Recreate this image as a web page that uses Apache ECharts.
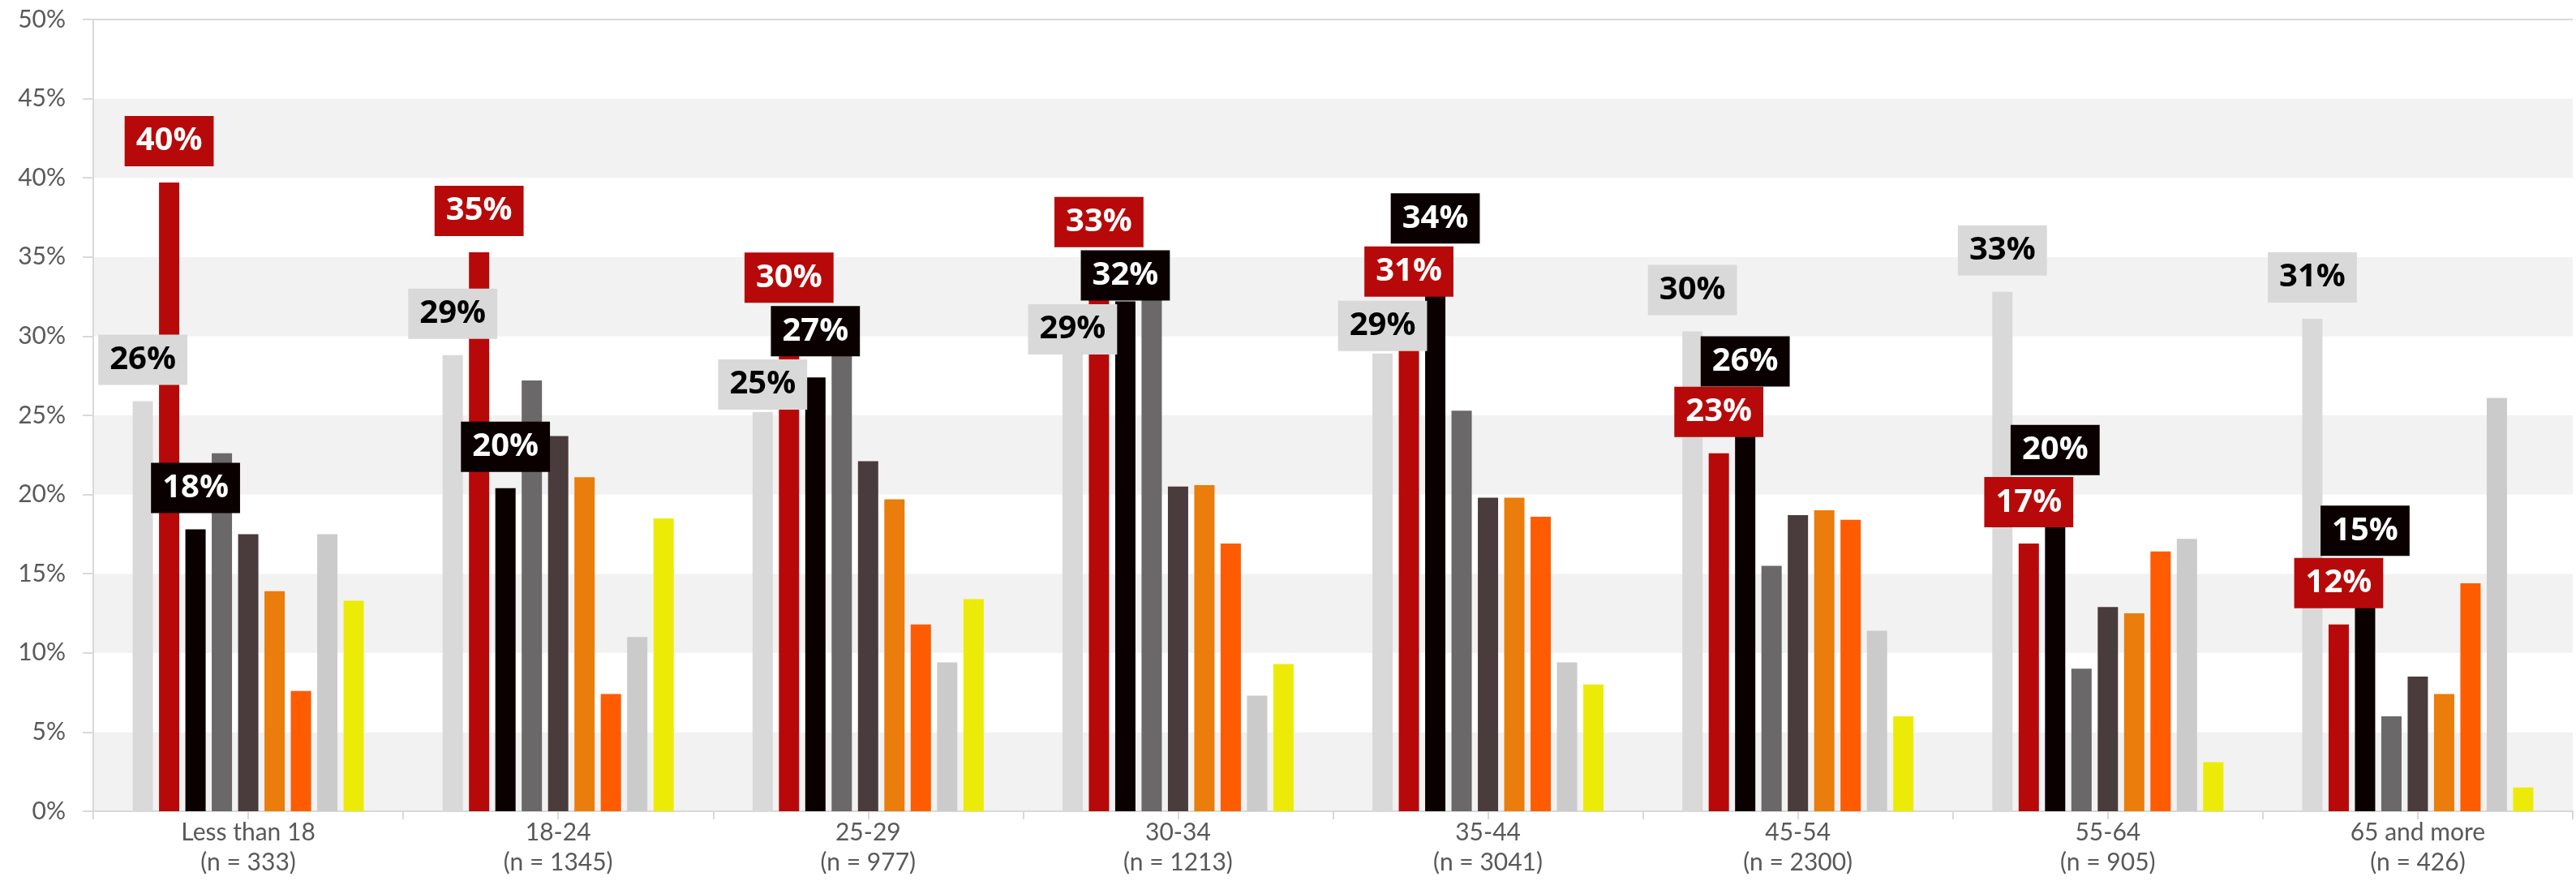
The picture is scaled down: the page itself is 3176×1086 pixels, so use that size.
<!DOCTYPE html>
<html>
<head>
<meta charset="utf-8">
<title>Age groups</title>
<script src="https://cdn.jsdelivr.net/npm/echarts@6/dist/echarts.min.js"></script>
<style>
  html, body { margin: 0; padding: 0; background: #fff; }
  #chart { width: 3176px; height: 1086px; }
</style>
</head>
<body>
<div id="chart"></div>
<script>
// data (percent)
const ageGroups = ['Less than 18', '18-24', '25-29', '30-34', '35-44', '45-54', '55-64', '65 and more']
const sampleSizes = [333, 1345, 977, 1213, 3041, 2300, 905, 426]

const lightGray = [25.9, 28.8, 25.2, 29.1, 28.9, 30.3, 32.8, 31.1]
const red = [39.7, 35.3, 29.8, 32.9, 30.8, 22.6, 16.9, 11.8]
const black = [17.8, 20.4, 27.4, 32.2, 33.8, 25.8, 20.2, 15.1]
const gray = [22.6, 27.2, 29.5, 32.8, 25.3, 15.5, 9.0, 6.0]
const darkBrown = [17.5, 23.7, 22.1, 20.5, 19.8, 18.7, 12.9, 8.5]
const orange = [13.9, 21.1, 19.7, 20.6, 19.8, 19.0, 12.5, 7.4]
const orangeRed = [7.6, 7.4, 11.8, 16.9, 18.6, 18.4, 16.4, 14.4]
const lightGray2 = [17.5, 11.0, 9.4, 7.3, 9.4, 11.4, 17.2, 26.1]
const yellow = [13.3, 18.5, 13.4, 9.3, 8.0, 6.0, 3.1, 1.5]

const yTicks = [0, 50, 5] // min, max, step

// labels were moved by hand in the original, so a few get a vertical nudge (px)
const nudgeLightGray = [0, 0, 17, 25, 17, 0, 0, 0]
const nudgeRed = [0, 0, -25, -33, -13, 0, 0, 0]
const nudgeBlack = [0, 0, -6, 19, -20, 0, 0, 0]

const chart = echarts.init(document.getElementById('chart'))

const axisColor = '#d9d9d9'
const textColor = '#595959'

function withLabels (values, nudges) {
  return values.map((v, i) => ({ value: v, label: { offset: [0, nudges[i]] } }))
}

function labelStyle (bg, fg) {
  return {
    show: true,
    position: 'top',
    distance: 20,
    formatter: p => Math.round(p.value) + '%',
    backgroundColor: bg,
    color: fg,
    fontFamily: 'Open Sans',
    fontWeight: 'bold',
    fontSize: 40,
    lineHeight: 40,
    padding: [11, 14]
  }
}

function bar (name, data, color, label) {
  const s = {
    name: name,
    type: 'bar',
    xAxisIndex: 0,
    barWidth: 25,
    barGap: '30%',
    itemStyle: { color: color },
    data: data
  }
  if (label) s.label = label
  return s
}

const option = {
  animation: false,
  grid: { left: 115, right: 4, top: 24, bottom: 86 },
  xAxis: [
    {
      type: 'category',
      data: ageGroups,
      axisLine: { show: true, lineStyle: { color: axisColor, width: 2 } },
      axisTick: { show: true, alignWithLabel: true, length: 10, lineStyle: { color: axisColor, width: 2 } },
      axisLabel: {
        color: textColor,
        fontFamily: 'Lato',
        fontSize: 30,
        lineHeight: 37,
        margin: 8,
        interval: 0,
        formatter: (v, i) => v + '\n(n = ' + sampleSizes[i] + ')'
      }
    },
    {
      // second axis only for the ticks at the category edges
      type: 'category',
      data: ageGroups,
      position: 'bottom',
      axisLine: { show: false },
      axisTick: { show: true, length: 10, lineStyle: { color: axisColor, width: 2 } },
      axisLabel: { show: false }
    }
  ],
  yAxis: {
    type: 'value',
    min: yTicks[0],
    max: yTicks[1],
    interval: yTicks[2],
    axisLine: { show: true, lineStyle: { color: axisColor, width: 2 } },
    axisTick: { show: true, length: 13, lineStyle: { color: axisColor, width: 2 } },
    axisLabel: {
      color: textColor,
      fontFamily: 'Lato',
      fontSize: 30,
      margin: 34,
      formatter: '{value}%'
    },
    splitLine: {
      show: true,
      lineStyle: {
        width: 2,
        color: ['transparent', 'transparent', 'transparent', 'transparent', 'transparent',
          'transparent', 'transparent', 'transparent', 'transparent', 'transparent', axisColor]
      }
    },
    splitArea: { show: true, areaStyle: { color: ['#f2f2f2', '#ffffff'] } }
  },
  series: [
    bar('s1', withLabels(lightGray, nudgeLightGray), '#d9d9d9', labelStyle('#d9d9d9', '#000000')),
    bar('s2', withLabels(red, nudgeRed), '#b70909', labelStyle('#b70909', '#ffffff')),
    bar('s3', withLabels(black, nudgeBlack), '#0a0000', labelStyle('#0a0000', '#ffffff')),
    bar('s4', gray, '#6a6868'),
    bar('s5', darkBrown, '#4a3c3c'),
    bar('s6', orange, '#ea7d0b'),
    bar('s7', orangeRed, '#ff5b00'),
    bar('s8', lightGray2, '#cbcbcb'),
    bar('s9', yellow, '#eceb07')
  ]
}

chart.setOption(option)
</script>
</body>
</html>
